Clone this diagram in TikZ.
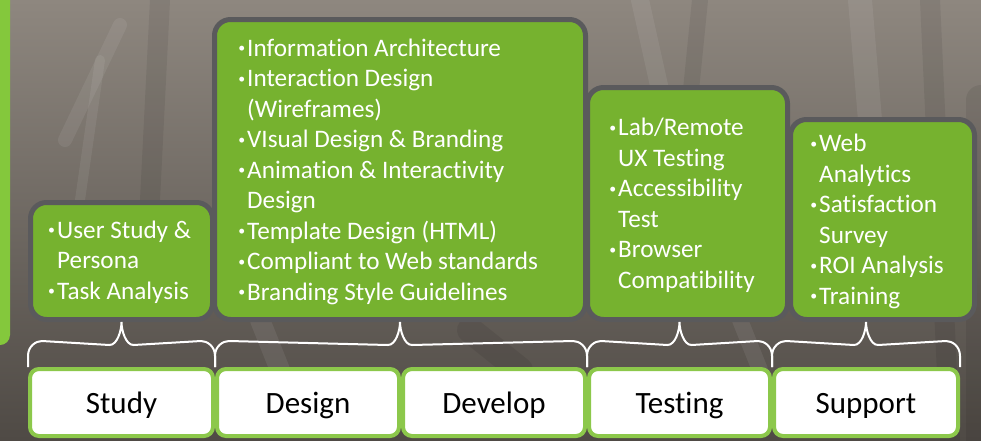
\documentclass[tikz,border=0pt]{standalone}
\usepackage{fontspec}
\setmainfont{Carlito}[Ligatures={NoCommon,NoRare}]
\usepackage{graphicx}
\usetikzlibrary{calc}
\definecolor{boxgreen}{HTML}{76B22F}
\definecolor{boxgrey}{HTML}{5A5A5C}
\definecolor{lightgreen}{HTML}{8CC84B}
\definecolor{bargreen}{HTML}{84C83C}
\definecolor{bgtop}{HTML}{8E877F}
\definecolor{bgbot}{HTML}{4F4A45}
\newcommand{\bul}{\makebox[11pt][c]{\raisebox{3.5pt}{\scalebox{0.55}{\textbullet}}}}
\newcommand{\ind}{\hspace*{11pt}}
\begin{document}
\begin{tikzpicture}[x=1pt,y=-1pt,
  greenbox/.style={draw=boxgrey, line width=5pt, fill=boxgreen, rounded corners=16pt, inner sep=0pt},
  phasebox/.style={draw=lightgreen, line width=4pt, fill=white, rounded corners=9pt, minimum height=67pt, inner sep=0pt, text height=28pt, text depth=7pt, font=\fontsize{31}{34}\selectfont, text=black},
  itemtext/.style={anchor=base west, align=left, inner sep=0pt, text=white, font=\fontsize{25.2}{30.5}\selectfont},
  bracepath/.style={draw=white, line width=2pt},
  streak/.style={line cap=round, opacity=0.07}]
\useasboundingbox (0,0) rectangle (981,440);
\begin{scope}
\clip (0,0) rectangle (981,440);
\shade[top color=bgtop, bottom color=bgbot] (0,0) rectangle (981,440);
% soft texture streaks
\draw[streak, white, line width=14pt] (120,25) -- (65,140);
\draw[streak, white, line width=10pt] (100,60) -- (80,200);
\draw[streak, black, line width=20pt] (160,0) -- (150,200);
\draw[streak, white, line width=18pt] (640,0) -- (660,90);
\draw[streak, black, line width=16pt] (700,0) -- (690,100);
\draw[streak, white, line width=24pt] (860,0) -- (870,120);
\draw[streak, black, line width=20pt] (930,0) -- (950,440);
\draw[streak, black, line width=30pt] (981,100) -- (981,440);
\draw[streak, white, line width=20pt] (260,320) -- (280,370);
\draw[streak, black, line width=26pt] (470,330) -- (520,370);
\draw[streak, white, line width=16pt] (740,320) -- (760,370);
\fill[bargreen, rounded corners=10pt] (-30,-30) rectangle (10,345);
\end{scope}
% green content boxes
\node[greenbox, minimum width=182pt, minimum height=117pt] (g1) at (121.5,261) {};
\node[greenbox, minimum width=371pt, minimum height=300pt] (g2) at (400,169.5) {};
\node[greenbox, minimum width=200pt, minimum height=232pt] (g3) at (687.5,203.5) {};
\node[greenbox, minimum width=184pt, minimum height=200pt] (g4) at (882.5,219.5) {};
% texts (anchored at the baseline of the last line)
\node[itemtext] (t1) at (46,299) {\bul User Study \&\\ \ind Persona\\ \bul Task Analysis};
\node[itemtext] (t2) at (236,300) {\bul Information Architecture\\ \bul Interaction Design\\ \ind (Wireframes)\\ \bul VIsual Design \& Branding\\ \bul Animation \& Interactivity\\ \ind Design\\ \bul Template Design (HTML)\\ \bul Compliant to Web standards\\ \bul Branding Style Guidelines};
\node[itemtext] (t3) at (607,288) {\bul Lab/Remote\\ \ind UX Testing\\ \bul Accessibility\\ \ind Test\\ \bul Browser\\ \ind Compatibility};
\node[itemtext] (t4) at (808,304) {\bul Web\\ \ind Analytics\\ \bul Satisfaction\\ \ind Survey\\ \bul ROI Analysis\\ \bul Training};
% phase boxes
\node[phasebox, minimum width=183pt] (study) at (121.5,402.5) {Study};
\node[phasebox, minimum width=182pt] (design) at (308,402.5) {Design};
\node[phasebox, minimum width=182pt] (develop) at (494,402.5) {Develop};
\node[phasebox, minimum width=181pt] (testing) at (679.5,402.5) {Testing};
\node[phasebox, minimum width=184pt] (support) at (866,402.5) {Support};
% brace tips
\coordinate (tip1) at (g1.south -| study.north);
\coordinate (tip2) at (g2.south);
\coordinate (tip3) at (g3.south -| testing.north);
\coordinate (tip4) at (g4.south -| support.north);
% braces
\foreach \L/\R/\T in {study.north west/study.north east/tip1, design.north west/develop.north east/tip2, testing.north west/testing.north east/tip3, support.north west/support.north east/tip4}{
  \draw[bracepath] (\L) -- ++(0,-11) .. controls +(0,-10) and +(-6,0) .. ++(14,-15)
    -- ($(\T)+(-12,23)$) .. controls +(8,0) and +(0,8) .. (\T)
    .. controls +(0,8) and +(-8,0) .. ($(\T)+(12,23)$)
    -- ($(\R)+(-14,-26)$) .. controls +(6,0) and +(0,-10) .. ($(\R)+(0,-11)$) -- (\R);
}
\end{tikzpicture}
\end{document}
